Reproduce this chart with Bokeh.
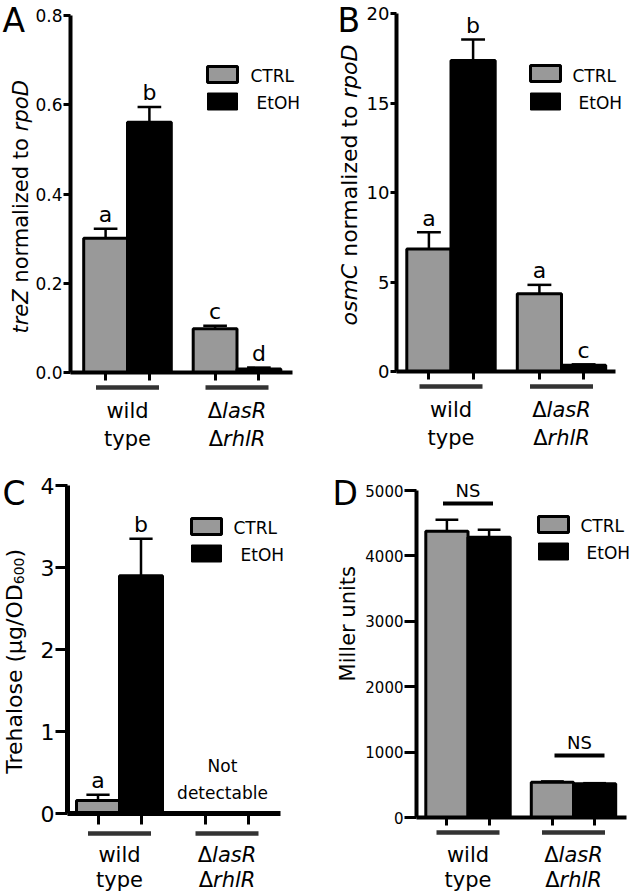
import math
from bokeh.plotting import figure
from bokeh.layouts import column, row
from bokeh.models import Range1d, FixedTicker, NumeralTickFormatter, CustomJSTickFormatter
from bokeh.core.properties import value
from bokeh.embed import file_html
from bokeh.resources import INLINE

FONT = "DejaVu Sans"
GRAY = "#999999"

# ---------------- data ----------------
groups = ["wild type", "ΔlasR ΔrhlR"]
treatments = ["CTRL", "EtOH"]

# A: treZ normalized to rpoD
treZ_ctrl = [0.301, 0.098]
treZ_ctrl_err = [0.021, 0.007]
treZ_etoh = [0.561, 0.008]
treZ_etoh_err = [0.034, 0.003]
treZ_letters_ctrl = ["a", "c"]
treZ_letters_etoh = ["b", "d"]
treZ_ticks = [0, 0.2, 0.4, 0.6, 0.8]

# B: osmC normalized to rpoD
osmC_ctrl = [6.85, 4.34]
osmC_ctrl_err = [0.93, 0.50]
osmC_etoh = [17.37, 0.35]
osmC_etoh_err = [1.18, 0.05]
osmC_letters_ctrl = ["a", "a"]
osmC_letters_etoh = ["b", "c"]
osmC_ticks = [0, 5, 10, 15, 20]

# C: Trehalose (ug/OD600)
treh_detectable = [True, False]
treh_ctrl = [0.16, 0.0]
treh_ctrl_err = [0.07, 0.0]
treh_etoh = [2.90, 0.0]
treh_etoh_err = [0.45, 0.0]
treh_letters_ctrl = ["a", ""]
treh_letters_etoh = ["b", ""]
treh_ticks = [0, 1, 2, 3, 4]

# D: Miller units
miller_ctrl = [4378, 540]
miller_ctrl_err = [175, 12]
miller_etoh = [4286, 515]
miller_etoh_err = [115, 10]
miller_ns = ["NS", "NS"]
miller_ticks = [0, 1000, 2000, 3000, 4000, 5000]

GROUP_GAP = 2.5
BAR_W = 1.0
CAP = 0.27
ADJ = 0.28  # baseline correction, fraction of font size

# DejaVu Sans advance widths (em)
W = {'Δ': .684, 'l': .278, 'a': .613, 's': .521, 'R': .695, 'r': .411, 'h': .634,
     't': .392, 'e': .615, 'Z': .685, ' ': .318, 'n': .634, 'o': .612, 'm': .974,
     'i': .278, 'z': .525, 'd': .635, 'p': .635, 'D': .770, 'C': .698, 'T': .611,
     'H': .752, 'O': .787, 'E': .632, 'L': .557, '(': .390, ')': .390, 'μ': .636,
     'g': .635, '/': .337, '6': .636, '0': .636, 'M': .863, 'u': .634, 'y': .592,
     'w': .818, 'N': .748, 'S': .635, 'c': .550, 'b': .635}


def tw(s, size):
    return sum(W.get(c, .6) for c in s) * size


def make_txt(X, Y):
    def txt(p, xpx, ypx, s, size, align="center", style="normal", rotated=False):
        if rotated:
            x, y, ang = X(xpx - ADJ * size), Y(ypx), math.pi / 2
        else:
            x, y, ang = X(xpx), Y(ypx - ADJ * size), 0.0
        p.text(x=[x], y=[y], text=[s], text_font=value(FONT), text_font_size=f"{size}px",
               text_align=align, text_baseline="alphabetic", text_font_style=style,
               angle=ang, text_color="black")
    return txt


def panel(spec):
    left, top, w, h = spec["box"]
    xc, xs, y0, ys = spec["map"]
    X = lambda px: (px - xc) / xs
    Y = lambda py: (y0 - py) / ys
    PX = lambda x: xc + x * xs
    PY = lambda y: y0 - y * ys
    txt = make_txt(X, Y)
    p = figure(width=w, height=h, x_range=Range1d(X(left), X(left + w)),
               y_range=Range1d(Y(top + h), Y(top)), output_backend="svg",
               toolbar_location=None, min_border=0, outline_line_color=None,
               background_fill_color="white", border_fill_color="white")
    p.grid.visible = False

    centers = [g * GROUP_GAP for g in range(len(groups))]
    show = spec.get("show", [True] * len(groups))
    series = [([c - BAR_W / 2 for c in centers], spec["ctrl"], spec["ctrl_err"], spec["lc"], GRAY),
              ([c + BAR_W / 2 for c in centers], spec["etoh"], spec["etoh_err"], spec["le"], "black")]
    for bx, vals, errs, letters, color in series:
        xx = [x for x, s in zip(bx, show) if s]
        vv = [v for v, s in zip(vals, show) if s]
        ee = [e for e, s in zip(errs, show) if s]
        ll = [l for l, s in zip(letters, show) if s]
        tops = [v + e for v, e in zip(vv, ee)]
        p.vbar(x=xx, top=vv, bottom=0, width=BAR_W, fill_color=color,
               line_color="black", line_width=3)
        p.segment(x0=xx, y0=vv, x1=xx, y1=tops, line_color="black", line_width=2.5)
        p.segment(x0=[x - CAP for x in xx], y0=tops, x1=[x + CAP for x in xx], y1=tops,
                  line_color="black", line_width=2.5)
        for x, t, l in zip(xx, tops, ll):
            if l:
                txt(p, PX(x), PY(t) - 8, l, 22)

    # axes
    ax0, ax1 = spec["axis_x"]
    p.xaxis.fixed_location = 0
    p.xaxis.bounds = (X(ax0), X(ax1))
    p.xaxis.ticker = FixedTicker(ticks=sorted([c - BAR_W / 2 for c in centers] + [c + BAR_W / 2 for c in centers]))
    p.xaxis.formatter = CustomJSTickFormatter(code="return ''")
    p.xaxis.axis_line_width = spec["lw"]
    p.xaxis.major_tick_line_width = 3
    p.xaxis.major_tick_out = spec["xtick"]
    p.xaxis.major_tick_in = 0
    p.yaxis.fixed_location = X(ax0)
    p.yaxis.bounds = (0, spec["ticks"][-1])
    p.yaxis.ticker = FixedTicker(ticks=spec["ticks"])
    p.yaxis.formatter = NumeralTickFormatter(format=spec["fmt"])
    p.yaxis.axis_line_width = spec["lw"]
    p.yaxis.major_tick_line_width = 3
    p.yaxis.major_tick_out = spec["ytick"]
    p.yaxis.major_tick_in = 0
    p.yaxis.major_label_standoff = 1
    p.yaxis.major_label_text_font = FONT
    p.yaxis.major_label_text_font_size = f"{spec['tick_size']}px"
    p.yaxis.major_label_text_color = "black"
    p.axis.minor_tick_line_color = None
    p.axis.axis_line_color = "black"
    p.axis.major_tick_line_color = "black"

    # panel letter
    lx, lb = spec["letter_pos"]
    txt(p, lx, lb, spec["letter"], 33, align="left")

    # rotated y title built from pieces (bottom -> top); first piece ends at junction J
    bx_, start = spec["title_pos"]
    first = spec["title"][0]
    J = start - tw(first[0], first[2])
    base_size = first[2]
    for i, (s, style, size, shift) in enumerate(spec["title"]):
        xb = bx_ + shift + ADJ * size - ADJ * base_size
        if i == 0:
            txt(p, xb, J, s.strip(" "), size, align="right", style=style, rotated=True)
            cum = 0.0
        else:
            lead = len(s) - len(s.lstrip(" "))
            pos = J - cum - lead * W[" "] * size
            txt(p, xb, pos, s.strip(" "), size, align="left", style=style, rotated=True)
            cum += tw(s, size)

    # legend
    bcx, y1, y2, tx1, tx2, bl1, bl2 = spec["legend"]
    p.rect(x=[X(bcx)], y=[Y(y1)], width=30, height=16, width_units="screen",
           height_units="screen", fill_color=GRAY, line_color="black", line_width=3)
    p.rect(x=[X(bcx)], y=[Y(y2)], width=30, height=17, width_units="screen",
           height_units="screen", fill_color="black", line_color="black", line_width=1)
    txt(p, tx1, bl1, treatments[0], 17, align="left")
    txt(p, tx2, bl2, treatments[1], 17, align="left")

    # group underline bars and labels
    ul, b1, b2 = spec["glab"]
    half = 31.5 / xs
    p.segment(x0=[c - half for c in centers], y0=[Y(ul)] * len(centers),
              x1=[c + half for c in centers], y1=[Y(ul)] * len(centers),
              line_color="#333333", line_width=4.5)
    txt(p, PX(centers[0]), b1, "wild", 21)
    txt(p, PX(centers[0]), b2, "type", 21)
    cpx = PX(centers[1])
    for (d, nm), base in ((("Δ", "lasR"), b1), (("Δ", "rhlR"), b2)):
        total = tw(d, 21) + tw(nm, 21)
        st = cpx - total / 2
        txt(p, st, base, d, 21, align="left")
        txt(p, st + tw(d, 21), base, nm, 21, align="left", style="italic")
    return p, X, Y, txt


specA = dict(box=(0, 0, 316, 456), map=(127, 43.8, 372, 446.25),
             ctrl=treZ_ctrl, ctrl_err=treZ_ctrl_err, etoh=treZ_etoh, etoh_err=treZ_etoh_err,
             lc=treZ_letters_ctrl, le=treZ_letters_etoh, ticks=treZ_ticks, fmt="0.0",
             axis_x=(70, 292), lw=4, xtick=8, ytick=7, tick_size=17,
             letter="A", letter_pos=(2, 29),
             title=[("treZ", "italic", 21, 0), (" normalized to ", "normal", 21, 0), ("rpoD", "italic", 21, 0)],
             title_pos=(26, 333),
             legend=(222, 74, 101, 250, 256, 80, 107),
             glab=(387, 416, 444))

specB = dict(box=(316, 0, 317, 456), map=(450.5, 44.2, 371, 17.9),
             ctrl=osmC_ctrl, ctrl_err=osmC_ctrl_err, etoh=osmC_etoh, etoh_err=osmC_etoh_err,
             lc=osmC_letters_ctrl, le=osmC_letters_etoh, ticks=osmC_ticks, fmt="0",
             axis_x=(396, 615), lw=4, xtick=8, ytick=6, tick_size=18,
             letter="B", letter_pos=(337, 29),
             title=[("osmC", "italic", 22, 0), (" normalized to ", "normal", 22, 0), ("rpoD", "italic", 22, 0)],
             title_pos=(355, 325),
             legend=(545, 73, 101, 572, 578, 80, 107),
             glab=(386, 415, 443))

specC = dict(box=(0, 456, 316, 440), map=(119, 43, 813, 82),
             ctrl=treh_ctrl, ctrl_err=treh_ctrl_err, etoh=treh_etoh, etoh_err=treh_etoh_err,
             lc=treh_letters_ctrl, le=treh_letters_etoh, ticks=treh_ticks, fmt="0",
             show=treh_detectable,
             axis_x=(67, 280), lw=5, xtick=11, ytick=12, tick_size=22,
             letter="C", letter_pos=(2, 502),
             title=[("Trehalose (μg/OD", "normal", 22, 0), ("600", "normal", 14, 5), (")", "normal", 22, 0)],
             title_pos=(20, 777),
             legend=(206, 526, 553, 233, 240, 532, 559),
             glab=(833, 860, 885))

specD = dict(box=(316, 456, 317, 440), map=(467.5, 42.2, 817, 327 / 5000),
             ctrl=miller_ctrl, ctrl_err=miller_ctrl_err, etoh=miller_etoh, etoh_err=miller_etoh_err,
             lc=["", ""], le=["", ""], ticks=miller_ticks, fmt="0",
             axis_x=(416, 626), lw=4, xtick=8, ytick=12, tick_size=15,
             letter="D", letter_pos=(332, 502),
             title=[("Miller units", "normal", 21, 0)],
             title_pos=(353, 681),
             legend=(553, 524, 551, 580, 586, 530, 557),
             glab=(832, 860, 885))

pA, XA, YA, tA = panel(specA)
pB, XB, YB, tB = panel(specB)
pC, XC, YC, tC = panel(specC)
pD, XD, YD, tD = panel(specD)

# C: not detectable note
tC(pC, 222, 770, "Not", 17)
tC(pC, 222, 797, "detectable", 17)

# D: NS annotations
ns_bar_px = [503, 755]
ns_dx_px = [0, 6]
for g, (lab, by, dx) in enumerate(zip(miller_ns, ns_bar_px, ns_dx_px)):
    cpx = 467.5 + g * GROUP_GAP * 42.2 + dx
    pD.segment(x0=[XD(cpx - 25)], y0=[YD(by)], x1=[XD(cpx + 25)], y1=[YD(by)],
               line_color="black", line_width=4)
    tD(pD, cpx, by - 8, lab, 18)

layout = column(row(pA, pB), row(pC, pD))
open("out.html", "w").write(file_html(layout, INLINE))
